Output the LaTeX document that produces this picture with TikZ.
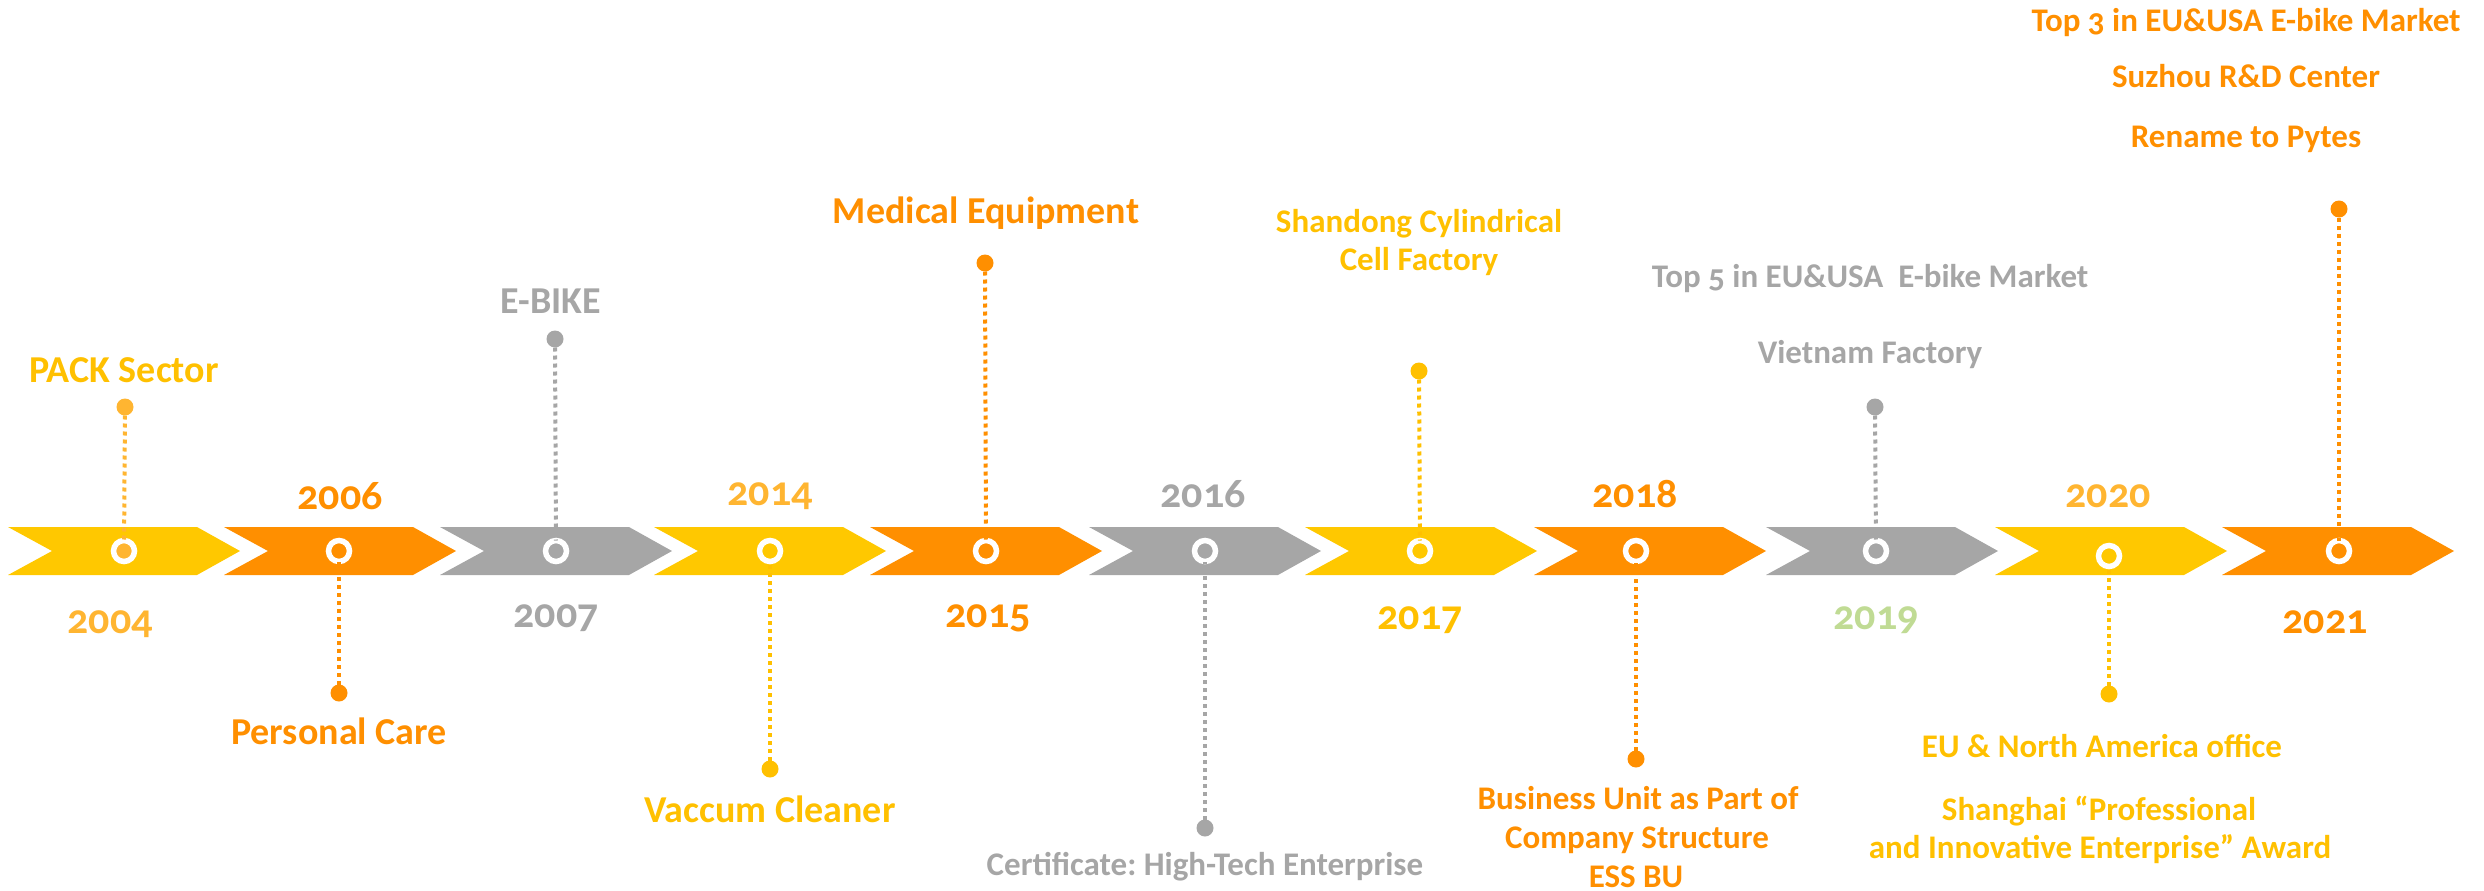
\documentclass[tikz,border=0pt]{standalone}
\usepackage{fontspec}
\setmainfont{Carlito}[Numbers=OldStyle]
\frenchspacing
\definecolor{aYel}{HTML}{FFC800}
\definecolor{aOra}{HTML}{FF8F00}
\definecolor{aGry}{HTML}{A6A6A6}
\definecolor{tGold}{HTML}{FFC000}
\definecolor{tLor}{HTML}{FFB531}
\definecolor{tGrn}{HTML}{C0DB94}
\tikzset{
  yr/.style={font=\bfseries\fontsize{42}{50}\selectfont, anchor=base, inner sep=0pt},
  big/.style={font=\bfseries\fontsize{38}{46}\selectfont, anchor=base, inner sep=0pt},
  sml/.style={font=\bfseries\fontsize{33}{38}\selectfont, anchor=base, inner sep=0pt},
  ring/.style={circle, draw=white, line width=5.5pt, minimum size=21pt, inner sep=0pt, outer sep=0pt},
  pin/.style={circle, minimum size=17pt, inner sep=0pt, outer sep=0pt},
  conn/.style={line width=4pt, dash pattern=on 4pt off 4pt},
}
\newcommand{\chev}[2]{\fill[#2] (#1,527) -- ++(189,0) -- ++(43,24) -- ++(-43,24) -- ++(-189,0) -- ++(44,-24) -- cycle;}
\begin{document}
\begin{tikzpicture}[x=1pt,y=-1pt]
\useasboundingbox (0,0) rectangle (2484,891);
% chevrons
\chev{8}{aYel}
\chev{224}{aOra}
\chev{440}{aGry}
\chev{654}{aYel}
\chev{870}{aOra}
\chev{1089}{aGry}
\chev{1305}{aYel}
\chev{1534}{aOra}
\chev{1766}{aGry}
\chev{1995}{aYel}
\chev{2222}{aOra}
% rings
\node[ring, fill=tLor] (c1) at (124,551) {};
\node[ring] (c2) at (339,551) {};
\node[ring] (c3) at (556,551) {};
\node[ring] (c4) at (770,551) {};
\node[ring] (c5) at (986,551) {};
\node[ring] (c6) at (1205,551) {};
\node[ring] (c7) at (1420,551) {};
\node[ring] (c8) at (1636,551) {};
\node[ring] (c9) at (1876,551) {};
\node[ring] (c10) at (2109,556) {};
\node[ring] (c11) at (2339,551) {};
% pins
\node[pin, fill=tLor] (d1) at (125,407) {};
\node[pin, fill=aOra] (d2) at (339,693) {};
\node[pin, fill=aGry] (d3) at (555,339) {};
\node[pin, fill=tGold] (d4) at (770,769) {};
\node[pin, fill=aOra] (d5) at (985,263) {};
\node[pin, fill=aGry] (d6) at (1205,828) {};
\node[pin, fill=tGold] (d7) at (1419,371) {};
\node[pin, fill=aOra] (d8) at (1636,759) {};
\node[pin, fill=aGry] (d9) at (1875,407) {};
\node[pin, fill=tGold] (d10) at (2109,694) {};
\node[pin, fill=aOra] (d11) at (2339,209) {};
% connectors
\draw[conn, tLor] (d1) -- (c1);
\draw[conn, aOra] (d2) -- (c2);
\draw[conn, aGry] (d3) -- (c3);
\draw[conn, tGold] (d4) -- (c4);
\draw[conn, aOra] (d5) -- (c5);
\draw[conn, aGry] (d6) -- (c6);
\draw[conn, tGold] (d7) -- (c7);
\draw[conn, aOra] (d8) -- (c8);
\draw[conn, aGry] (d9) -- (c9);
\draw[conn, tGold] (d10) -- (c10);
\draw[conn, aOra] (d11) -- (c11);
% years
\node[yr, text=tLor] (y2004) at (110,633) {2004};
\node[yr, text=aOra] (y2006) at (340,509) {2006};
\node[yr, text=aGry] (y2007) at (556,627) {2007};
\node[yr, text=tLor] (y2014) at (770,505) {2014};
\node[yr, text=aOra] (y2015) at (988,627) {2015};
\node[yr, text=aGry] (y2016) at (1203,507) {2016};
\node[yr, text=tGold] (y2017) at (1420,629) {2017};
\node[yr, text=aOra] (y2018) at (1635,507) {2018};
\node[yr, text=tGrn] (y2019) at (1876,629) {2019};
\node[yr, text=tLor] (y2020) at (2108,507) {2020};
\node[yr, text=aOra] (y2021) at (2325,633) {2021};
% labels above
\node[big, text=tGold] (l1) at (124,382) {PACK Sector};
\node[big, text=aGry] (l3) at (551,313) {E-BIKE};
\node[big, text=aOra] (l5) at (986,223) {Medical Equipment};
\node[sml, text=tGold] (l7a) at (1419,232) {Shandong Cylindrical};
\node[sml, text=tGold] (l7b) at (1419,270) {Cell Factory};
\node[sml, text=aGry] (l9a) at (1870,287) {Top 5 in EU\&USA\ \ E-bike Market};
\node[sml, text=aGry] (l9b) at (1870,363) {Vietnam Factory};
\node[sml, text=aOra] (l11a) at (2246,32) {Top 3 in EU\&USA E-bike Market};
\node[sml, text=aOra] (l11b) at (2246,88) {Suzhou R\&D Center};
\node[sml, text=aOra] (l11c) at (2246,147) {Rename to Pytes};
% labels below
\node[big, text=aOra] (l2) at (339,744) {Personal Care};
\node[big, text=tGold] (l4) at (770,822) {Vaccum Cleaner};
\node[sml, text=aGry] (l6) at (1205,875) {Certificate: High-Tech Enterprise};
\node[sml, text=aOra] (l8a) at (1638,809) {Business Unit as Part of};
\node[sml, text=aOra] (l8b) at (1637,848) {Company Structure};
\node[sml, text=aOra] (l8c) at (1636,887) {ESS BU};
\node[sml, text=tGold] (l10a) at (2102,757) {EU \& North America office};
\node[sml, text=tGold] (l10b) at (2099,820) {Shanghai “Professional};
\node[sml, text=tGold] (l10c) at (2100,858) {and Innovative Enterprise” Award};
\end{tikzpicture}
\end{document}
